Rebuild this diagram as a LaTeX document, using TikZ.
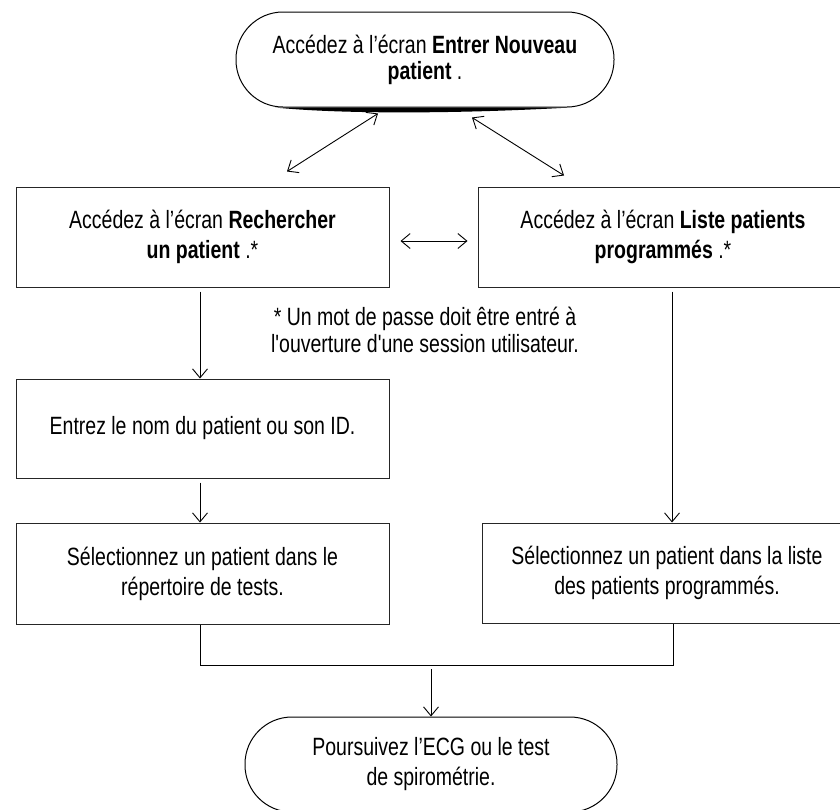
\documentclass[tikz,border=0pt]{standalone}
\usepackage{fontspec}
\setmainfont{Liberation Sans}[FakeStretch=0.78]
\newfontfamily\notefont{Liberation Sans}[FakeStretch=0.78]
\usetikzlibrary{arrows.meta}

\begin{document}
\begin{tikzpicture}[x=1pt,y=-1pt,
    font=\fontsize{25}{30}\selectfont,
    box/.style={draw=black!85, line width=1pt, align=center, minimum width=373pt, minimum height=100pt, inner sep=0pt},
    term/.style={draw, line width=1pt, align=center, minimum width=378pt, minimum height=95pt, rounded corners=47pt, inner sep=0pt},
    flow/.style={line width=0.9pt, -{Straight Barb[length=9pt,width=15pt]}},
    both/.style={line width=0.9pt, {Straight Barb[length=9pt,width=15pt]}-{Straight Barb[length=9pt,width=15pt]}}]
    \useasboundingbox (0,0) rectangle (840,809);
    \clip (0,0) rectangle (840,809);

    \node[term, font=\fontsize{25}{26}\selectfont] (start) at (425,59.5) {Accédez à l’écran \textbf{Entrer Nouveau}\\\textbf{patient} .};
    % heavy lower edge
    \fill ([xshift=-150pt]start.south) .. controls ([xshift=-80pt,yshift=-7pt]start.south) and ([xshift=40pt,yshift=-6pt]start.south) .. ([xshift=145pt]start.south) -- cycle;

    \node[box] (rech) at (202.5,237) {Accédez à l’écran \textbf{Rechercher}\\\textbf{un patient} .*};
    \node[box, minimum width=370pt] (liste) at (663,237) {Accédez à l’écran \textbf{Liste patients}\\\textbf{programmés} .*};
    \node[align=center, font=\notefont\fontsize{25}{27}\selectfont] (note) at (425,330) {* Un mot de passe doit être entré à\\l'ouverture d'une session utilisateur.};

    \node[box, minimum height=99pt] (entrez) at (202.5,428.5) {Entrez le nom du patient ou son ID.};
    \node[box, minimum height=101pt] (selrep) at (202.5,573.5) {Sélectionnez un patient dans le\\répertoire de tests.};
    \node[box, minimum width=370pt] (selliste) at (667,573) {Sélectionnez un patient dans la liste\\des patients programmés.};

    \node[term, minimum width=372pt] (fin) at (431,764.5) {Poursuivez l’ECG ou le test\\de spirométrie.};

    % arrows
    \draw[both] ([xshift=-47pt,yshift=-6pt]start.south) -- ([xshift=84.5pt,yshift=15pt]rech.north);
    \draw[both] ([xshift=47pt,yshift=-10pt]start.south) -- ([xshift=-99pt,yshift=11pt]liste.north);
    \draw[both] ([xshift=11pt,yshift=-4pt]rech.east) -- ([xshift=-10pt,yshift=-4pt]liste.west);
    \draw[flow, shorten <=4pt] ([xshift=-2.5pt]rech.south) -- ([xshift=-2.5pt]entrez.north);
    \draw[flow, shorten <=4pt] ([xshift=-2.5pt]entrez.south) -- ([xshift=-2.5pt]selrep.north);
    \draw[flow, shorten <=4pt] ([xshift=9pt]liste.south) -- ([xshift=5pt]selliste.north);

    \coordinate (merge) at (431,665);
    \draw[line width=0.9pt] ([xshift=-2.5pt]selrep.south) |- (merge) -| ([xshift=6pt]selliste.south);
    \draw[flow] ([yshift=-4pt]merge) -- (fin.north);
\end{tikzpicture}
\end{document}
